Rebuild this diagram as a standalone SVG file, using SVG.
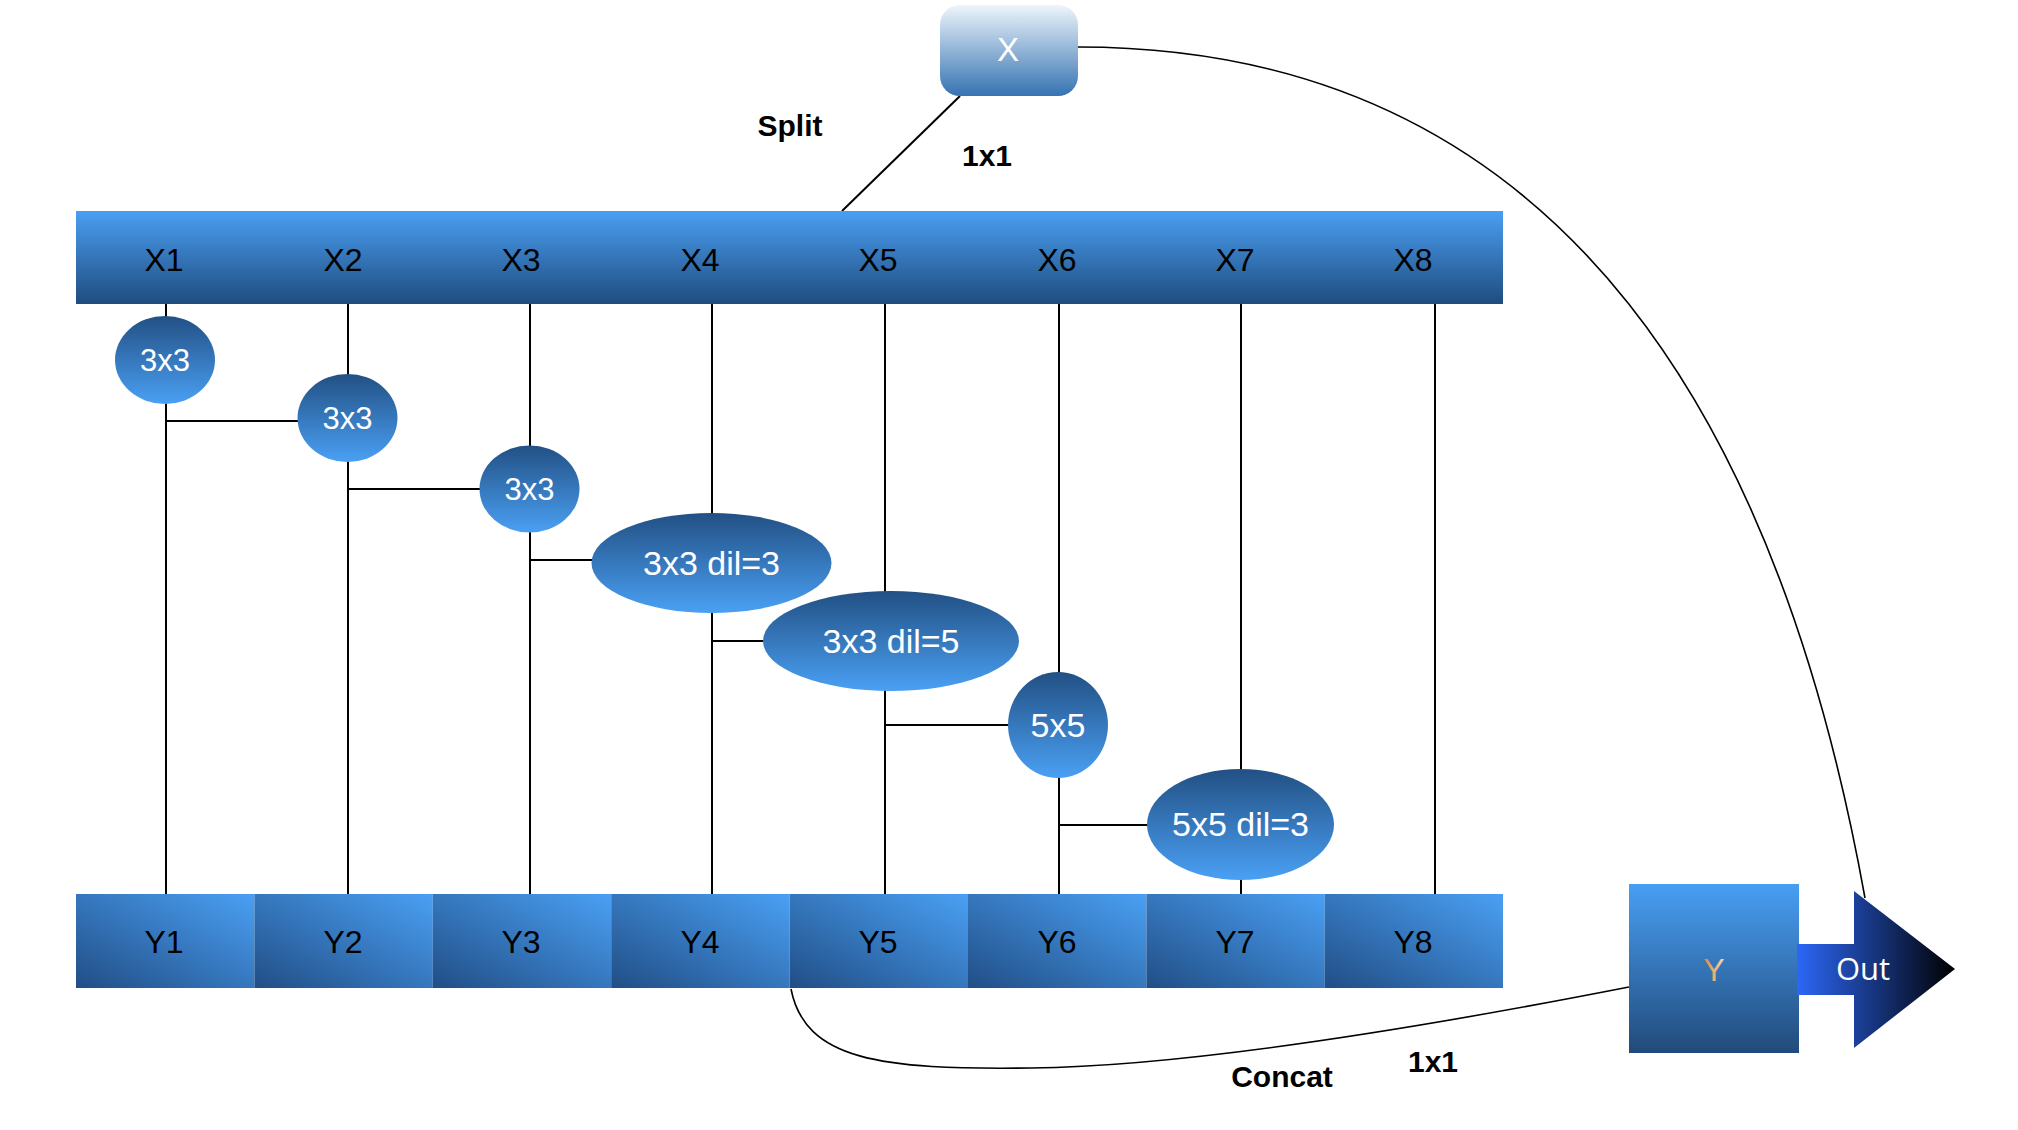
<svg xmlns="http://www.w3.org/2000/svg" width="2018" height="1130" viewBox="0 0 2018 1130">
<defs>
<linearGradient id="gBar" x1="0" y1="0" x2="0" y2="1"><stop offset="0" stop-color="#4a9ff2"/><stop offset="1" stop-color="#1f4c7e"/></linearGradient>
<linearGradient id="gCell" x1="0" y1="1" x2="1" y2="0"><stop offset="0" stop-color="#214e86"/><stop offset="1" stop-color="#4aa0f4"/></linearGradient>
<linearGradient id="gEl" x1="0" y1="0" x2="0" y2="1"><stop offset="0" stop-color="#225084"/><stop offset="1" stop-color="#4aa0f4"/></linearGradient>
<linearGradient id="gX" x1="0" y1="0" x2="0" y2="1"><stop offset="0" stop-color="#eef5fb"/><stop offset="1" stop-color="#3573b2"/></linearGradient>
<linearGradient id="gY" x1="0" y1="0" x2="0" y2="1"><stop offset="0" stop-color="#489ff3"/><stop offset="1" stop-color="#214a7a"/></linearGradient>
<linearGradient id="gYt" x1="0" y1="0" x2="1" y2="0"><stop offset="0" stop-color="#d9843e"/><stop offset="1" stop-color="#f3dcb4"/></linearGradient>
<linearGradient id="gOut" gradientUnits="userSpaceOnUse" x1="1797" y1="0" x2="1955" y2="0"><stop offset="0" stop-color="#2c67f6"/><stop offset="1" stop-color="#000000"/></linearGradient>
</defs>
<style>
.lbl{font-family:"Liberation Sans",Arial,sans-serif;font-size:32px;fill:#000;text-anchor:middle}
.wl{font-family:"Liberation Sans",Arial,sans-serif;fill:#fff;text-anchor:middle}
.bold{font-family:"Liberation Sans",Arial,sans-serif;font-weight:bold;font-size:30px;fill:#000;text-anchor:middle}
.ln{stroke:#000;stroke-width:2;fill:none}
.cv{stroke:#000;stroke-width:1.6;fill:none}
.el{fill:url(#gEl)}
.cell{fill:url(#gCell)}
</style>
<rect width="2018" height="1130" fill="#fff"/>

<g id="connectors">
<line class="ln" x1="960" y1="96" x2="842" y2="211"/>
<path class="cv" d="M1078 47 C1578 47 1784 448 1865 898"/>
<path class="cv" d="M791 989 C805 1060 880 1070 1031 1068 C1200 1066 1450 1022 1629 987"/>
<line class="ln" x1="166" y1="304" x2="166" y2="894"/>
<line class="ln" x1="348" y1="304" x2="348" y2="894"/>
<line class="ln" x1="530" y1="304" x2="530" y2="894"/>
<line class="ln" x1="712" y1="304" x2="712" y2="894"/>
<line class="ln" x1="885" y1="304" x2="885" y2="894"/>
<line class="ln" x1="1059" y1="304" x2="1059" y2="894"/>
<line class="ln" x1="1241" y1="304" x2="1241" y2="894"/>
<line class="ln" x1="1435" y1="304" x2="1435" y2="894"/>
<line class="ln" x1="166" y1="421" x2="298" y2="421"/>
<line class="ln" x1="348" y1="489" x2="480" y2="489"/>
<line class="ln" x1="530" y1="560" x2="592" y2="560"/>
<line class="ln" x1="712" y1="641" x2="764" y2="641"/>
<line class="ln" x1="885" y1="725" x2="1009" y2="725"/>
<line class="ln" x1="1059" y1="825" x2="1148" y2="825"/>
</g>

<g id="labels">
<text class="bold" x="790" y="136">Split</text>
<text class="bold" x="987" y="166">1x1</text>
<text class="bold" x="1282" y="1087">Concat</text>
<text class="bold" x="1433" y="1072">1x1</text>
</g>

<g id="node-X">
<rect x="940" y="5" width="138" height="91" rx="20" fill="url(#gX)"/>
<text class="wl" x="1008" y="61" font-size="33">X</text>
</g>

<g id="node-Xbar">
<rect x="76" y="211" width="1427" height="93" fill="url(#gBar)"/>
<text class="lbl" x="164" y="271">X1</text>
<text class="lbl" x="343" y="271">X2</text>
<text class="lbl" x="521" y="271">X3</text>
<text class="lbl" x="700" y="271">X4</text>
<text class="lbl" x="878" y="271">X5</text>
<text class="lbl" x="1057" y="271">X6</text>
<text class="lbl" x="1235" y="271">X7</text>
<text class="lbl" x="1413" y="271">X8</text>
</g>

<g id="node-conv1"><ellipse class="el" cx="165" cy="360" rx="50" ry="44"/><text class="wl" x="165" y="371" font-size="31">3x3</text></g>
<g id="node-conv2"><ellipse class="el" cx="347.5" cy="418" rx="50" ry="44"/><text class="wl" x="347.5" y="429" font-size="31">3x3</text></g>
<g id="node-conv3"><ellipse class="el" cx="529.5" cy="489" rx="50" ry="43.5"/><text class="wl" x="529.5" y="500" font-size="31">3x3</text></g>
<g id="node-conv4"><ellipse class="el" cx="711.5" cy="563" rx="120" ry="50"/><text class="wl" x="711.5" y="575" font-size="34">3x3 dil=3</text></g>
<g id="node-conv5"><ellipse class="el" cx="891" cy="641" rx="128" ry="50"/><text class="wl" x="891" y="653" font-size="34">3x3 dil=5</text></g>
<g id="node-conv6"><ellipse class="el" cx="1058" cy="725" rx="50" ry="53"/><text class="wl" x="1058" y="737" font-size="34">5x5</text></g>
<g id="node-conv7"><ellipse class="el" cx="1240.5" cy="824.5" rx="93.5" ry="55.5"/><text class="wl" x="1240.5" y="836" font-size="34">5x5 dil=3</text></g>

<g id="node-Ybar">
<rect class="cell" x="76" y="894" width="178.4" height="94"/>
<rect class="cell" x="254.4" y="894" width="178.4" height="94"/>
<rect class="cell" x="432.8" y="894" width="178.4" height="94"/>
<rect class="cell" x="611.2" y="894" width="178.4" height="94"/>
<rect class="cell" x="789.6" y="894" width="178.4" height="94"/>
<rect class="cell" x="968" y="894" width="178.4" height="94"/>
<rect class="cell" x="1146.4" y="894" width="178.4" height="94"/>
<rect class="cell" x="1324.8" y="894" width="178.2" height="94"/>
<text class="lbl" x="164" y="953">Y1</text>
<text class="lbl" x="343" y="953">Y2</text>
<text class="lbl" x="521" y="953">Y3</text>
<text class="lbl" x="700" y="953">Y4</text>
<text class="lbl" x="878" y="953">Y5</text>
<text class="lbl" x="1057" y="953">Y6</text>
<text class="lbl" x="1235" y="953">Y7</text>
<text class="lbl" x="1413" y="953">Y8</text>
</g>

<g id="node-Y">
<rect x="1629" y="884" width="170" height="169" fill="url(#gY)"/>
<text x="1714" y="981" font-family="'Liberation Sans',Arial,sans-serif" font-size="32" text-anchor="middle" fill="url(#gYt)">Y</text>
</g>

<g id="node-Out">
<polygon points="1797,944 1854,944 1854,891 1955,969 1854,1048 1854,995 1797,995" fill="url(#gOut)"/>
<text x="1863" y="980" font-family="'Open Sans','Liberation Sans',sans-serif" font-size="31" text-anchor="middle" fill="#fff">Out</text>
</g>
</svg>
